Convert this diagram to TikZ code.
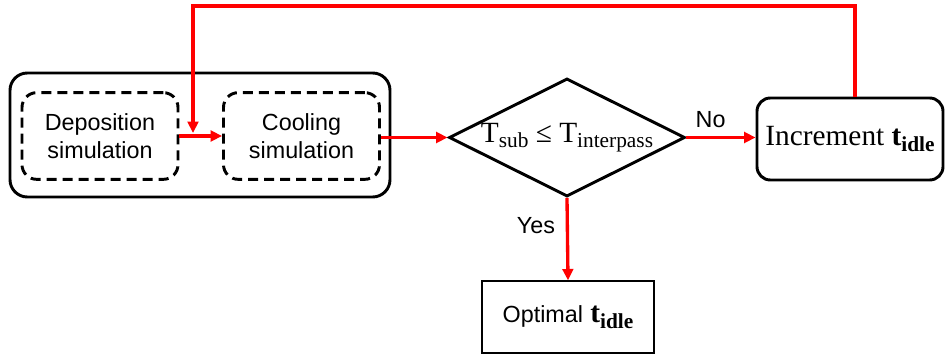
\documentclass[tikz,border=0pt]{standalone}
\usepackage{fontspec}
\setmainfont{Liberation Serif}
\setsansfont{Liberation Sans}
\usetikzlibrary{shapes.geometric,arrows.meta}
\definecolor{FlowRed}{RGB}{255,0,0}
\newcommand{\sansfnt}{\sffamily\fontsize{17.5}{21}\selectfont}
\newcommand{\serffnt}{\rmfamily\fontsize{22}{26}\selectfont}
\newcommand{\subs}[1]{\raisebox{-4pt}{\fontsize{16}{16}\selectfont #1}}
\newcommand{\tidle}{\textbf{t}\subs{\textbf{idle}}}
\tikzset{
  nd_grp/.style={rectangle,rounded corners=13pt,draw=black,line width=2.2pt,minimum width=285pt,minimum height=93pt},
  nd_sim/.style={rectangle,rounded corners=11pt,draw=black,line width=2.2pt,dash pattern=on 7.5pt off 4.5pt,minimum width=117pt,minimum height=65pt,align=center,font=\sansfnt},
  nd_dec/.style={diamond,draw=black,line width=2.2pt,minimum width=177pt,minimum height=88.5pt,inner sep=0pt},
  nd_inc/.style={rectangle,rounded corners=10pt,draw=black,line width=2.2pt,minimum width=139.5pt,minimum height=61.5pt,font=\serffnt},
  nd_out/.style={rectangle,draw=black,line width=1pt,minimum width=129pt,minimum height=54pt,font=\serffnt},
  arr/.style={-{Triangle[length=8.5pt,width=8pt]},draw=FlowRed,line width=2.5pt},
  lbl/.style={font=\sansfnt,inner sep=2pt},
}

\begin{document}
\begin{tikzpicture}[x=0.75pt,y=-0.75pt]
\useasboundingbox (0,0) rectangle (945,356);
\node[nd_grp] at (200,135)(GRP){};
\node[nd_sim] at (100,136)(DEP){Deposition\\simulation};
\node[nd_sim] at (301.5,136)(COOL){Cooling\\simulation};
\node[nd_dec,label={[font=\serffnt]center:T\subs{sub} ≤ T\subs{interpass}}] at (567,137.5)(DEC){};
\node[nd_inc] at (850,139)(INC){Increment \tidle};
\node[nd_out] at (568,317)(OPT){{\sansfnt Optimal} \tidle};
\coordinate (JN) at (193,133);
\coordinate (TOP) at (855,6);
% arrows
\draw[arr](DEP)--(COOL);
\draw[arr](COOL.east|-DEC.west)--(DEC.west);
\draw[arr](DEC.east)--node[lbl,above,pos=0.35,yshift=4pt]{No}(DEC.east-|INC.west);
\draw[arr](DEC.south)--node[lbl,left,pos=0.33,xshift=-6pt]{Yes}(OPT.north);
\draw[arr](INC.north-|TOP)--(TOP)-|(JN);
\end{tikzpicture}
\end{document}
